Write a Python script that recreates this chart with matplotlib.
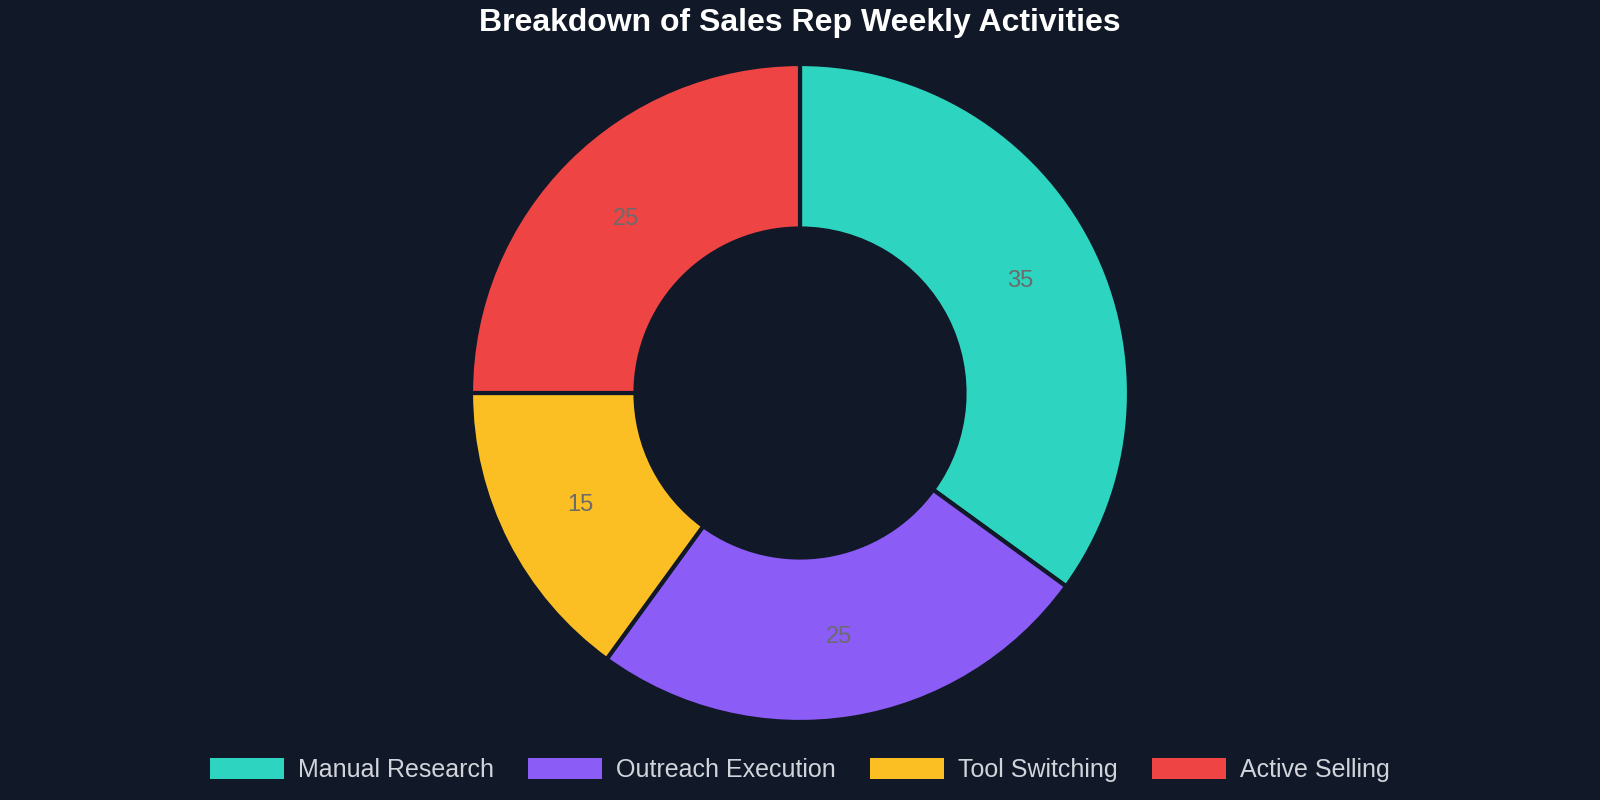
import matplotlib
matplotlib.use("Agg")
import matplotlib.pyplot as plt

categories = ["Manual Research", "Outreach Execution", "Tool Switching", "Active Selling"]
values = [35, 25, 15, 25]
colors = ["#2dd4bf", "#8b5cf6", "#fbbf24", "#ef4444"]
title = "Breakdown of Sales Rep Weekly Activities"

bg = "#111827"
plt.rcParams["font.family"] = ["Liberation Sans", "DejaVu Sans"]

fig = plt.figure(figsize=(16, 8), dpi=100, facecolor=bg)
W, H = 1600, 800
cx, cy, R = 800, 393, 329
ax = fig.add_axes([(cx - R) / W, (H - cy - R) / H, 2 * R / W, 2 * R / H])
ax.set_facecolor(bg)

total = sum(values)
wedges, texts, autotexts = ax.pie(
    values,
    colors=colors,
    startangle=90,
    counterclock=False,
    radius=1.0,
    wedgeprops=dict(width=0.5, edgecolor=bg, linewidth=3),
    autopct=lambda p: f"{round(p * total / 100):d}",
    pctdistance=0.75,
    textprops=dict(color="#6b6b6b", fontsize=17),
)
ax.set_xlim(-1, 1)
ax.set_ylim(-1, 1)
ax.set_aspect("equal")
ax.axis("off")

fig.text(0.5, 1 - 22.5 / H, title, ha="center", va="center",
         color="white", fontsize=23, fontweight="bold")

leg = fig.legend(
    wedges, categories, loc="center", bbox_to_anchor=(0.5, 1 - 770 / H),
    ncol=4, frameon=False, fontsize=18,
    handlelength=2.97, handleheight=0.88, handletextpad=0.56, columnspacing=1.36,
)
for t in leg.get_texts():
    t.set_color("#d1d5db")
for h in leg.legend_handles:
    h.set_edgecolor("none")
    h.set_linewidth(0)

fig.savefig("out.png", facecolor=bg)
